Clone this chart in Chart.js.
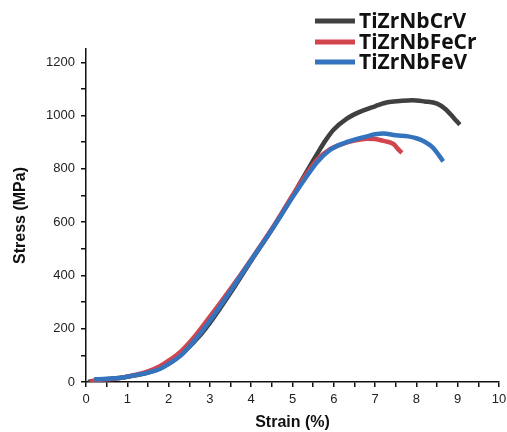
<!DOCTYPE html>
<html lang="en">
<head>
  <meta charset="UTF-8">
  <title>Stress-Strain Curves</title>
  <script src="https://cdn.jsdelivr.net/npm/chart.js"></script>
  <style>
    body {
      margin: 0;
      background: #ffffff;
    }
    .chart-box {
      width: 507px;
      height: 432px;
    }
  </style>
</head>
<body>
  <div class="chart-box">
    <canvas id="stressChart" width="507" height="432"></canvas>
  </div>

  <script>
    // Series labels and colours
    const seriesNames = ["TiZrNbCrV", "TiZrNbFeCr", "TiZrNbFeV"];
    const seriesColors = ["#404040", "#d2454f", "#3474bf"];

    // TiZrNbCrV
    const strainCrV = [0.05, 0.3, 0.6, 1.0, 1.3, 1.6, 1.8, 2.0, 2.2, 2.4, 2.6, 2.8, 3.0, 3.2, 3.5, 4.0, 4.5, 5.0, 5.2, 5.4, 5.6, 5.8, 6.0, 6.3, 6.6, 7.0, 7.3, 7.6, 7.9, 8.2, 8.5, 8.7, 8.9, 9.05];
    const stressCrV = [0, 8, 12, 20, 28, 40, 52, 68, 90, 118, 148, 182, 222, 266, 335, 455, 572, 698, 752, 805, 857, 907, 948, 987, 1012, 1035, 1050, 1055, 1058, 1053, 1045, 1025, 992, 966];

    // TiZrNbFeCr
    const strainFeCr = [0.1, 0.3, 0.7, 1.0, 1.5, 1.8, 2.0, 2.3, 2.6, 3.0, 3.5, 4.0, 4.5, 5.0, 5.3, 5.6, 5.9, 6.2, 6.5, 6.8, 7.0, 7.2, 7.45, 7.55, 7.65];
    const stressFeCr = [0, 8, 12, 20, 40, 60, 80, 115, 165, 245, 350, 460, 575, 700, 772, 835, 873, 893, 906, 913, 912, 905, 893, 875, 860];

    // TiZrNbFeV
    const strainFeV = [0.2, 0.5, 0.8, 1.0, 1.5, 1.8, 2.0, 2.3, 2.6, 3.0, 3.5, 4.0, 4.5, 5.0, 5.3, 5.6, 5.9, 6.2, 6.5, 6.8, 7.0, 7.2, 7.5, 7.8, 8.0, 8.2, 8.4, 8.55, 8.65];
    const stressFeV = [10, 12, 15, 20, 35, 50, 68, 100, 150, 230, 342, 458, 572, 693, 762, 826, 870, 894, 910, 922, 930, 933, 926, 922, 915, 902, 880, 850, 828];

    // Axis ticks
    const xMajorTicks = [0, 1, 2, 3, 4, 5, 6, 7, 8, 9, 10];
    const yMajorTicks = [0, 200, 400, 600, 800, 1000, 1200];

    function toPoints(xs, ys) {
      return xs.map((x, i) => ({ x: x, y: ys[i] }));
    }

    const allStrain = [strainCrV, strainFeCr, strainFeV];
    const allStress = [stressCrV, stressFeCr, stressFeV];

    const datasets = seriesNames.map((name, i) => ({
      label: name,
      data: toPoints(allStrain[i], allStress[i]),
      borderColor: seriesColors[i],
      borderWidth: 4.5,
      pointRadius: 0,
      fill: false,
      cubicInterpolationMode: "monotone",
      order: 2 - i
    }));

    // Legend drawn in the top right corner, outside the layout flow
    const cornerLegend = {
      id: "cornerLegend",
      afterDraw(chart) {
        const ctx = chart.ctx;
        const rows = [21, 42, 62];
        ctx.save();
        ctx.font = "bold 21px 'Open Sans', sans-serif";
        ctx.textBaseline = "middle";
        chart.data.datasets.forEach((ds, i) => {
          ctx.strokeStyle = ds.borderColor;
          ctx.lineWidth = 5;
          ctx.beginPath();
          ctx.moveTo(315, rows[i]);
          ctx.lineTo(355, rows[i]);
          ctx.stroke();
          ctx.fillStyle = "#111111";
          ctx.fillText(ds.label, 359, rows[i] + 1);
        });
        ctx.restore();
      }
    };

    new Chart(document.getElementById("stressChart").getContext("2d"), {
      type: "line",
      data: { datasets: datasets },
      options: {
        responsive: false,
        animation: false,
        layout: {
          padding: { left: 0, right: 8, top: 49, bottom: 0 }
        },
        plugins: {
          legend: { display: false },
          tooltip: { enabled: false }
        },
        scales: {
          x: {
            type: "linear",
            min: 0,
            max: 10,
            afterFit(scale) { scale.height = 50; scale.paddingRight = 0; },
            border: { color: "#111111", width: 1.5 },
            grid: {
              drawOnChartArea: false,
              drawTicks: true,
              tickLength: 5,
              color: "#111111",
              lineWidth: 1.5
            },
            ticks: {
              stepSize: 0.5,
              autoSkip: false,
              maxRotation: 0,
              padding: 5,
              color: "#222222",
              font: { family: "'Liberation Sans', Arial, sans-serif", size: 13 },
              callback: v => xMajorTicks.includes(v) ? String(v) : ""
            },
            title: {
              display: true,
              text: "Strain (%)",
              color: "#111111",
              padding: { top: 6, bottom: 0 },
              font: { family: "'Liberation Sans', Arial, sans-serif", size: 16, weight: "bold" }
            }
          },
          y: {
            min: 0,
            max: 1250,
            afterFit(scale) { scale.width = 86; },
            border: { color: "#111111", width: 1.5 },
            grid: {
              drawOnChartArea: false,
              drawTicks: true,
              tickLength: 5,
              color: "#111111",
              lineWidth: 1.5
            },
            ticks: {
              stepSize: 100,
              includeBounds: false,
              autoSkip: false,
              padding: 6,
              color: "#222222",
              font: { family: "'Liberation Sans', Arial, sans-serif", size: 13 },
              callback: v => yMajorTicks.includes(v) ? String(v) : ""
            },
            title: {
              display: true,
              text: "Stress (MPa)",
              color: "#111111",
              padding: { top: 11, bottom: 0 },
              font: { family: "'Liberation Sans', Arial, sans-serif", size: 16, weight: "bold" }
            }
          }
        }
      },
      plugins: [cornerLegend]
    });
  </script>
</body>
</html>
